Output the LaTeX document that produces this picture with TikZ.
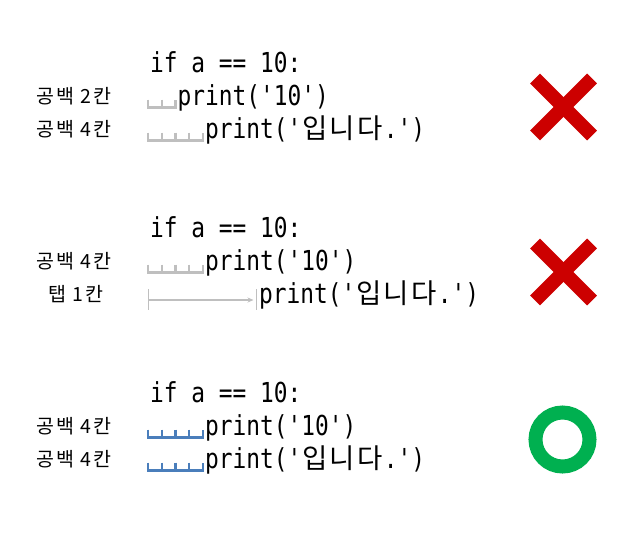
\documentclass[tikz,border=0pt]{standalone}
\usepackage{fontspec}
\setmonofont{DejaVu Sans Mono}[FakeStretch=0.83]
\newfontfamily\kr{Noto Sans CJK KR}
\newfontfamily\krlab{Noto Sans CJK KR}[LetterSpace=10]
\usetikzlibrary{arrows.meta}
\definecolor{markgray}{HTML}{BFBFBF}
\definecolor{markblue}{HTML}{4A7EBB}
\definecolor{xred}{HTML}{CC0000}
\definecolor{ogreen}{HTML}{00B050}
\newcommand\kc[1]{\makebox[27.5pt][c]{\kr #1}}
\tikzset{
  code/.style={anchor=base west, inner sep=0pt, font=\fontsize{27.5}{30}\selectfont\ttfamily},
  lab/.style={anchor=base, inner sep=0pt, font=\fontsize{19.5}{21}\selectfont\krlab},
  spcmark/.style={line width=2.2pt, line cap=butt, line join=miter},
  cross/.style={draw=xred, line width=14pt, line cap=butt},
  ring/.style={draw=ogreen, line width=14pt},
  tabline/.style={draw=markgray, line width=1.6pt},
}
% #1 = x start, #2 = baseline, #3 = number of cells, #4 = colour
\newcommand\spacemarks[4]{%
  \draw[spcmark, draw=#4] (#1,#2-6) -- (#1,#2+2) -- ({#1+#3*13.75},#2+2) -- ({#1+#3*13.75},#2-6);
  \foreach \k in {1,...,\numexpr#3-1\relax}{%
    \draw[spcmark, draw=#4] ({#1+\k*13.75},#2-6) -- ({#1+\k*13.75},#2+2);
  }%
}
\begin{document}
\begin{tikzpicture}[x=1pt,y=-1pt]
\useasboundingbox (0,0) rectangle (639,547);

% ---- block 1 ----
\node[code] (if1) at (150,72) {if a == 10:};
\node[lab] (l1a) at (74,103.5) {공백 2칸};
\node[code] (p1a) at (177.5,105.5) {print('10')};
\node[lab] (l1b) at (74,136.5) {공백 4칸};
\node[code] (p1b) at (205,138.5) {print('\kc{입}\kc{니}\kc{다}.')};
\spacemarks{148}{105.5}{2}{markgray}
\spacemarks{148}{138.5}{4}{markgray}
\draw[cross] (535,78.5) -- (592,135.5);
\draw[cross] (535,135.5) -- (592,78.5);

% ---- block 2 ----
\node[code] (if2) at (150,237) {if a == 10:};
\node[lab] (l2a) at (74,268.5) {공백 4칸};
\node[code] (p2a) at (205,270.5) {print('10')};
\node[lab] (l2b) at (76,301.5) {탭 1칸};
\node[code] (p2b) at (259,303.5) {print('\kc{입}\kc{니}\kc{다}.')};
\spacemarks{148}{270.5}{4}{markgray}
\coordinate (tabs) at (148.5,300);
\coordinate (tabe) at (256.5,300);
\draw[tabline] (148.5,289) -- (148.5,310);
\draw[tabline] (256.5,289) -- (256.5,310);
\draw[tabline, -{Stealth[length=6pt,width=5pt]}] (tabs) -- ([xshift=-3pt]tabe);
\draw[cross] (535,243.5) -- (592,300.5);
\draw[cross] (535,300.5) -- (592,243.5);

% ---- block 3 ----
\node[code] (if3) at (150,402) {if a == 10:};
\node[lab] (l3a) at (74,433.5) {공백 4칸};
\node[code] (p3a) at (205,435.5) {print('10')};
\node[lab] (l3b) at (74,466.5) {공백 4칸};
\node[code] (p3b) at (205,468.5) {print('\kc{입}\kc{니}\kc{다}.')};
\spacemarks{148}{435.5}{4}{markblue}
\spacemarks{148}{468.5}{4}{markblue}
\draw[ring] (562.5,439.5) circle[radius=27];
\end{tikzpicture}
\end{document}
